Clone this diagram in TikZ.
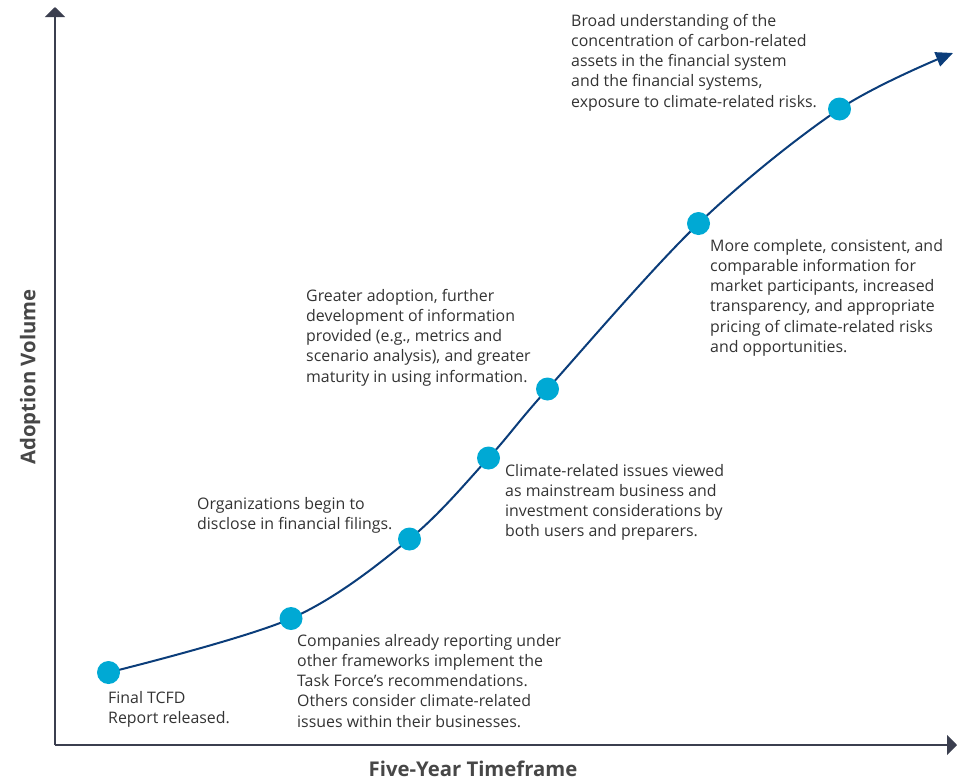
\documentclass[tikz,border=0pt]{standalone}
\usepackage{fontspec}
\setmainfont{Open Sans}
\usetikzlibrary{arrows.meta}
\definecolor{axisc}{HTML}{3B3F4F}
\definecolor{curvec}{HTML}{0B3D7A}
\definecolor{dotc}{HTML}{00A9D4}
\definecolor{txtc}{HTML}{333333}
\tikzset{
  axisline/.style={draw=axisc, line width=2pt, -{Triangle[length=10pt,width=20pt]}},
  curveline/.style={draw=curvec, line width=2pt, -{Triangle[length=17pt,width=15pt]}},
  dotn/.style={circle, fill=dotc, minimum size=23pt, inner sep=0pt},
  lbl/.style={anchor=north west, inner sep=0pt, align=left, text=txtc,
    font=\fontsize{15.9}{20.2}\selectfont},
  axlbl/.style={inner sep=0pt, text=txtc!90!white, font=\fontsize{20.3}{22}\selectfont\bfseries}
}
\begin{document}
\begin{tikzpicture}[x=1pt,y=-1pt]
\useasboundingbox (0,0) rectangle (963,782);
\coordinate (O) at (55,745);
\coordinate (ytop) at (55,7);
\coordinate (xend) at (957,745);
\draw[axisline] (O) -- (ytop);
\draw[axisline] (O) -- (xend);
\coordinate (p1) at (108.5,672.5);
\coordinate (p2) at (291,618.5);
\coordinate (p3) at (409.5,539);
\coordinate (p4) at (488.5,458);
\coordinate (p5) at (547.5,389);
\coordinate (p6) at (698.5,223.5);
\coordinate (p7) at (839.5,109);
\coordinate (pend) at (953,53);
\draw[curveline] plot[smooth, tension=0.55] coordinates {(p1) (p2) (p3) (p4) (p5) (p6) (p7) (pend)};
\foreach \i in {1,...,7} { \node[dotn] (d\i) at (p\i) {}; }
\node[lbl] (t1) at (108,691) {Final TCFD\\Report released.};
\node[lbl] (t2) at (297,634) {Companies already reporting under\\other frameworks implement the\\Task Force’s recommendations.\\Others consider climate-related\\issues within their businesses.};
\node[lbl] (t3) at (197,497) {Organizations begin to\\disclose in financial filings.};
\node[lbl] (t4) at (505,464) {Climate-related issues viewed\\as mainstream business and\\investment considerations by\\both users and preparers.};
\node[lbl] (t5) at (306,289) {Greater adoption, further\\development of information\\provided (e.g., metrics and\\scenario analysis), and greater\\maturity in using information.};
\node[lbl] (t6) at (710,239) {More complete, consistent, and\\comparable information for\\market participants, increased\\transparency, and appropriate\\pricing of climate-related risks\\and opportunities.};
\node[lbl] (t7) at (571,14) {Broad understanding of the\\concentration of carbon-related\\assets in the financial system\\and the financial systems,\\exposure to climate-related risks.};
\node[axlbl, rotate=90] (ylab) at (30,377) {Adoption Volume};
\node[axlbl] (xlab) at (473,769) {Five-Year Timeframe};
\end{tikzpicture}
\end{document}
